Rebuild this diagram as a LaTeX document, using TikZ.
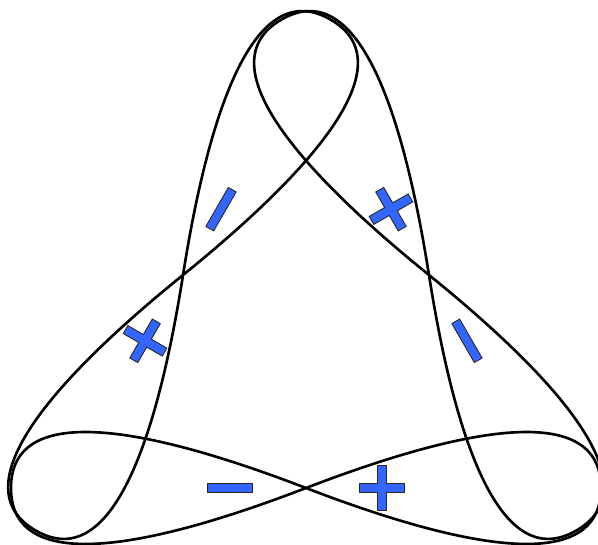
\documentclass[tikz,border=0pt]{standalone}
\usepackage{tikz}
\definecolor{signblue}{RGB}{51,102,255}

\begin{document}
\begin{tikzpicture}[
    x=0.02cm, y=0.02cm,
    loop/.style={line width=1.5pt, line join=round, line cap=round},
    sign/.style={draw=black!85, fill=signblue, line width=0.5pt}
  ]
  \useasboundingbox (-306,-198) rectangle (292,346);
  \clip (-306,-198) rectangle (292,346);

  \foreach \r in {0,120,240} {
    \begin{scope}[rotate=\r]
      % figure eight along one side
      \draw[loop] (0,-142) .. controls (-156,-82) and (-295,-54) .. (-295,-142)
        .. controls (-295,-230) and (-156,-202) .. (0,-142)
        .. controls (156,-82) and (295,-54) .. (295,-142)
        .. controls (295,-230) and (156,-202) .. (0,-142);
      % minus sign
      \draw[sign] (-98.5,-146.5) rectangle (-53.5,-137.5);
      % plus sign
      \draw[sign, shift={(76,-142)}] (-4.6,22.5) -- (4.6,22.5) -- (4.6,4.6) -- (22.5,4.6)
        -- (22.5,-4.6) -- (4.6,-4.6) -- (4.6,-22.5) -- (-4.6,-22.5) -- (-4.6,-4.6)
        -- (-22.5,-4.6) -- (-22.5,4.6) -- (-4.6,4.6) -- cycle;
    \end{scope}
  }
\end{tikzpicture}
\end{document}
